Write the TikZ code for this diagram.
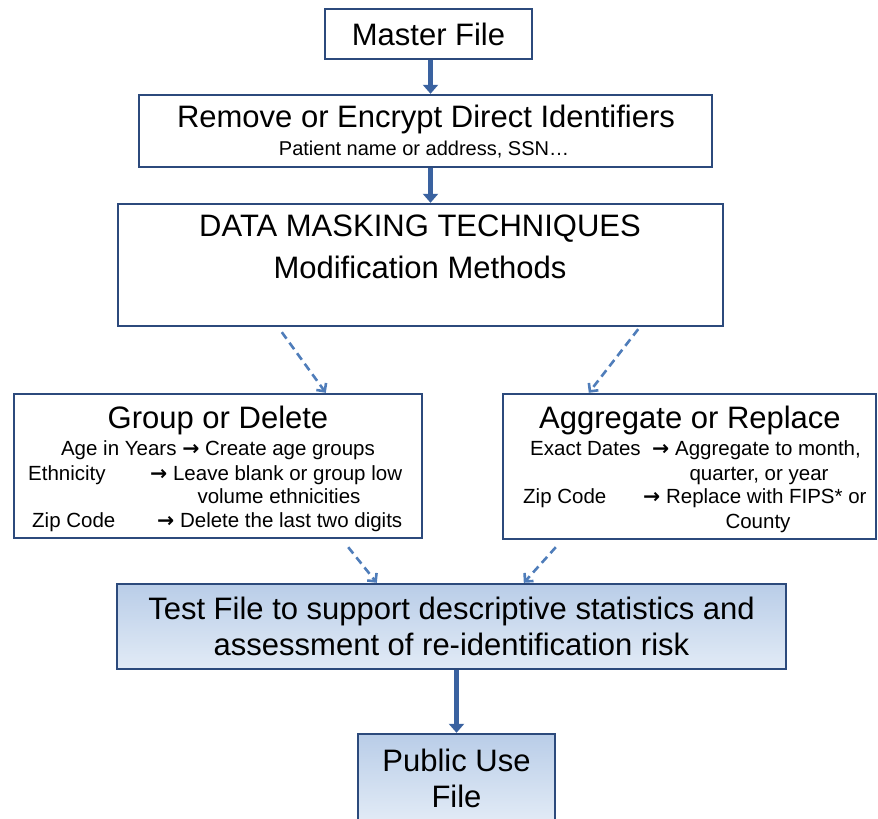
\documentclass[tikz,border=0pt]{standalone}
\usepackage{fontspec}
\setmainfont{Liberation Sans}
\newfontfamily\arrowfont{DejaVu Sans}
\usetikzlibrary{arrows.meta,calc}

\definecolor{boxline}{HTML}{2C4A7C}
\definecolor{flowblue}{HTML}{3A62A0}
\definecolor{dashblue}{HTML}{4F7DBA}
\definecolor{filltop}{HTML}{B9CDE8}
\definecolor{fillbot}{HTML}{E2EBF6}

\newcommand{\toarrow}{{\arrowfont\bfseries →}}

\tikzset{
  box/.style={draw=boxline, line width=2.4pt, rectangle, inner sep=0pt},
  shadedbox/.style={box, top color=filltop, bottom color=fillbot},
  title/.style={font=\fontsize{31}{36}\selectfont, inner sep=0pt, align=center},
  body/.style={font=\fontsize{20.5}{24}\selectfont, inner sep=0pt, text height=15pt, text depth=4pt},
  flowline/.style={draw=flowblue, line width=5pt, -{Triangle[width=15pt,length=9pt]}},
  dashline/.style={draw=dashblue, line width=2.6pt, dash pattern=on 8pt off 5pt, -{Straight Barb[width=12pt,length=6pt]}},
}

\begin{document}
\begin{tikzpicture}[x=1pt,y=-1pt]
\useasboundingbox (0,0) rectangle (878,819);

\begin{scope}
  \node[box, minimum width=207pt, minimum height=50pt, title] (master) at (428.5,34) {Master File};
  \node[box, minimum width=573pt, minimum height=72pt] (remove) at (425.5,131) {};
  \node[box, minimum width=605pt, minimum height=122pt] (mask) at (420.5,265) {};
  \node[box, minimum width=408pt, minimum height=144pt] (group) at (218,466) {};
  \node[box, minimum width=373pt, minimum height=145pt] (aggr) at (689.5,466.5) {};
  \node[shadedbox, minimum width=669pt, minimum height=85pt, title] (test) at (451.5,626.5)
    {Test File to support descriptive statistics and\\assessment of re-identification risk};
  \node[shadedbox, minimum width=197pt, minimum height=88pt, title] (public) at (456.5,778)
    {Public Use\\File};
\end{scope}

\begin{scope}
  \node[title] (removetitle) at (426,119) {Remove or Encrypt Direct Identifiers};
  \node[body, font=\fontsize{20}{24}\selectfont] (removesub) at (424,150) {Patient name or address, SSN\ldots};
  \node[title] (masktitle) at (420,229) {DATA MASKING TECHNIQUES};
  \node[title] (masksub) at (420,267) {Modification Methods};

  \node[title] (grouptitle) at (218,420) {Group or Delete};
  \node[body] (groupa) at (218,450) {Age in Years \toarrow\ Create age groups};
  \node[body, anchor=west] (groupb) at (28,475) {Ethnicity};
  \node[body, anchor=west] (groupc) at (150,475) {\toarrow\ Leave blank or group low};
  \node[body] (groupd) at (279,498) {volume ethnicities};
  \node[body, anchor=west] (groupe) at (32,522) {Zip Code};
  \node[body, anchor=west] (groupf) at (157,522) {\toarrow\ Delete the last two digits};

  \node[title] (aggrtitle) at (690,420) {Aggregate or Replace};
  \node[body, anchor=west] (aggra) at (530,450) {Exact Dates};
  \node[body, anchor=west] (aggrb) at (652,450) {\toarrow\ Aggregate to month,};
  \node[body] (aggrc) at (759,475) {quarter, or year};
  \node[body, anchor=west] (aggrd) at (523,498) {Zip Code};
  \node[body, anchor=west] (aggre) at (643,498) {\toarrow\ Replace with FIPS* or};
  \node[body] (aggrf) at (758,523) {County};
\end{scope}

\draw[flowline] ([xshift=2pt]master.south) -- ([xshift=2pt]master.south |- remove.north);
\draw[flowline] ([xshift=2pt]master.south |- remove.south) -- ([xshift=2pt]master.south |- mask.north);
\draw[flowline] ([xshift=5pt]test.south) -- ([xshift=5pt]test.south |- public.north);

\draw[dashline] ($(mask.south west)+(165,5)$) -- ($(group.north west)+(313,0)$);
\draw[dashline] ($(mask.south east)+(-86,2)$) -- ($(aggr.north west)+(87,0)$);
\draw[dashline] ($(group.south east)+(-75,8)$) -- ($(test.north west)+(261,0)$);
\draw[dashline] ($(aggr.south west)+(54,7)$) -- ($(test.north west)+(408,0)$);

\end{tikzpicture}
\end{document}
